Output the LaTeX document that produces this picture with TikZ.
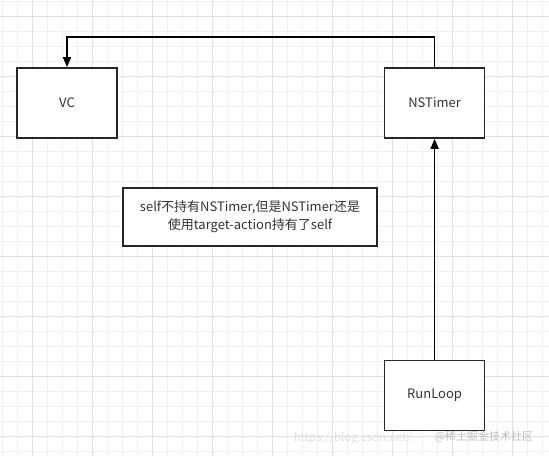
\documentclass[tikz,border=0pt]{standalone}
\usepackage{fontspec}
\setmainfont{Liberation Sans}
\newfontfamily\cjk{Noto Sans CJK SC}
\usepackage{tikz}
\usetikzlibrary{arrows.meta,positioning}

\begin{document}
\begin{tikzpicture}[x=1pt,y=-1pt,line width=1.6pt,-{Triangle[length=10pt,width=8pt]}]
\tikzstyle{box} = [rectangle, draw=black!85, fill=white, minimum width=100pt, minimum height=70pt, font=\cjk\fontsize{13}{18}\selectfont, text=black!80]
\tikzstyle{note} = [rectangle, draw=black!85, fill=white, minimum width=254pt, minimum height=58pt, align=center, font=\cjk\fontsize{13}{18}\selectfont, text=black!80]
\tikzstyle{minor} = [draw=black!6, line width=0.8pt, -]
\tikzstyle{major} = [draw=black!12, line width=0.8pt, -]
\useasboundingbox (0,0) rectangle (549,456);
\fill[white] (0,0) rectangle (549,456);
% grid
\foreach \x in {2,17,...,549} \draw[minor] (\x,0) -- (\x,456);
\foreach \y in {1,16,...,456} \draw[minor] (0,\y) -- (549,\y);
\foreach \x in {32,92,...,549} \draw[major] (\x,0) -- (\x,456);
\foreach \y in {16,76,...,456} \draw[major] (0,\y) -- (549,\y);
% boxes
\node[box] (VC) at (67,103) {VC};
\node[box][right=266pt of VC] (NSTimer) {NSTimer};
\node[box][below=221pt of NSTimer] (RunLoop) {RunLoop};
\node[note] (Note) at (250,217) {self不持有NSTimer,但是NSTimer还是\\使用target-action持有了self};
% arrows
\draw (NSTimer.north) -- ++(0,-30) -| (VC.north);
\draw (RunLoop.north) -- (NSTimer.south);
% watermark
\node[font=\cjk\fontsize{11.5}{13}\selectfont, text=black!12, anchor=west, inner sep=0pt] (Url) at (293,438) {https://blog.csdn.net/};
\node[font=\cjk\fontsize{11}{13}\selectfont, text=black!25, anchor=west, inner sep=0pt] (Mark) at (434,437) {@稀土掘金技术社区};
\end{tikzpicture}
\end{document}
